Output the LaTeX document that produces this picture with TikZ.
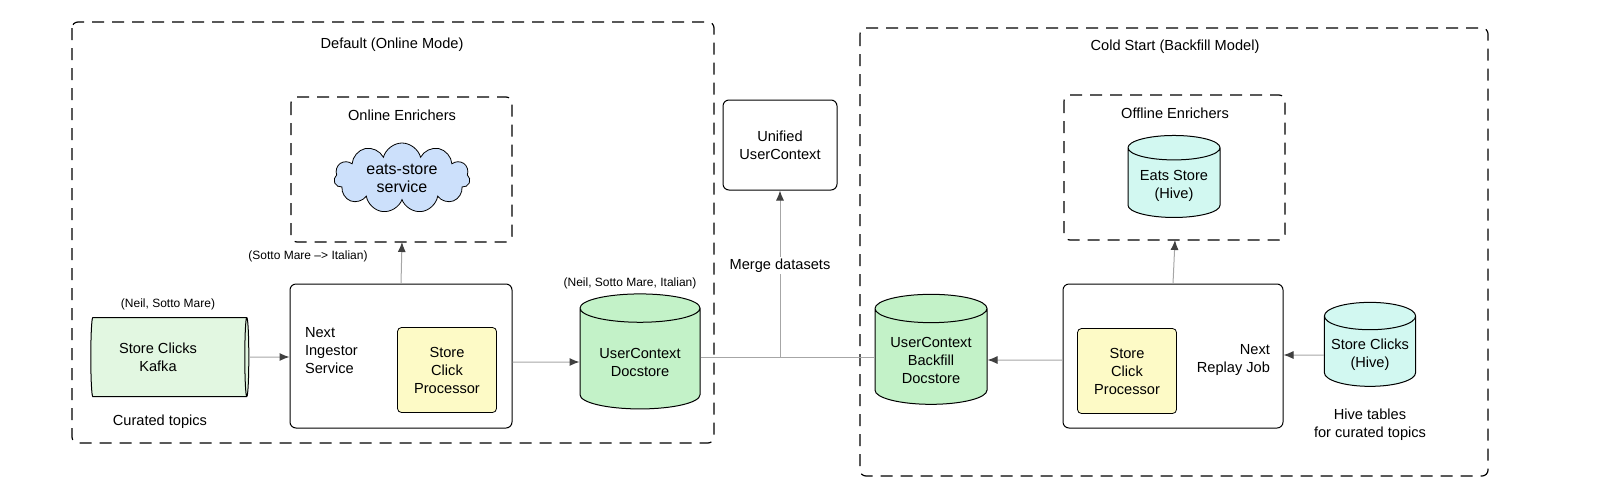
\documentclass[tikz,border=0pt]{standalone}
\usepackage{fontspec}
\setmainfont{Liberation Sans}
\usepackage{tikz}
\usetikzlibrary{positioning, calc, shapes.geometric, shapes.symbols, arrows.meta}
\definecolor{dbgreen}{HTML}{C3F2C8}
\definecolor{kafkagreen}{HTML}{E2F7E1}
\definecolor{cloudblue}{HTML}{CCE0FB}
\definecolor{procyellow}{HTML}{FDFAC6}
\definecolor{hiveteal}{HTML}{D2F8F1}

\begin{document}
\begin{tikzpicture}[
    x=0.5pt, y=-0.5pt,
    >={Latex[length=5pt,width=4pt,color=black!75]},
    every edge/.style={draw=black!35, line width=0.5pt},
    font=\fontsize{7.3}{9}\selectfont,
    region/.style={draw, dash pattern=on 6pt off 4pt, line width=0.6pt, rounded corners=3pt},
    cmpt/.style={draw, rounded corners=3pt, line width=0.5pt},
    proc/.style={draw, rounded corners=2pt, fill=procyellow, minimum width=49.5pt, minimum height=42.5pt, align=center},
    db/.style={draw, cylinder, shape border rotate=90, aspect=0.3, align=center, line width=0.5pt},
    note/.style={align=center, font=\fontsize{6}{7.5}\selectfont},
    tag/.style={midway, fill=white, text=black, inner sep=1pt}]

    \useasboundingbox (0,0) rectangle (1600,483);

    % left side
    \draw [region] (72,22) rectangle (714,443);
    \node at (392,45) {Default (Online Mode)};
    \draw [region] (291,97) rectangle (512,242);
    \node at (402,115) {Online Enrichers};
    \node [draw, cloud, cloud puffs=11, aspect=2, fill=cloudblue, align=center, minimum width=68pt, minimum height=34pt, inner sep=0pt] (eats) at (402,178) {\fontsize{8}{10}\selectfont eats-store\\\fontsize{8}{10}\selectfont service};
    \coordinate (enrichers) at (402,242);
    \node [note] at (308,256) {(Sotto Mare --> Italian)};

    \node [cmpt, minimum width=111pt, minimum height=72pt] (ingestor) at (401,356) {};
    \node [anchor=west, align=left] at (298,351) {Next\\Ingestor\\Service};
    \node [proc] (clickproc) at (447,370) {Store\\Click\\Processor};

    \node [db, shape border rotate=0, fill=kafkagreen, minimum width=39.5pt, minimum height=79pt] (kafka) at (168,357) {};
    \node at (158,357) [align=center] {Store Clicks\\Kafka};
    \node [note] at (168,304) {(Neil, Sotto Mare)};
    \node at (160,422) {Curated topics};

    \node [db, fill=dbgreen, minimum width=60pt, minimum height=57.5pt] (docstore) at (640,362) {UserContext\\Docstore};
    \node [note] at (630,283) {(Neil, Sotto Mare, Italian)};

    % merge
    \node [cmpt, minimum width=57pt, minimum height=45pt, align=center] (unified) at (780,145) {Unified\\UserContext};
    \coordinate (merge) at (780,357);

    % right side
    \draw [region] (860,28) rectangle (1488,476);
    \node at (1175,47) {Cold Start (Backfill Model)};
    \draw [region] (1064,95) rectangle (1285,240);
    \node at (1175,113) {Offline Enrichers};
    \node [db, fill=hiveteal, minimum width=46pt, minimum height=41pt] (eatshive) at (1174,186) {Eats Store\\(Hive)};
    \coordinate (offline) at (1175,240);

    \node [cmpt, minimum width=110pt, minimum height=72pt] (replay) at (1173,356) {};
    \node [anchor=east, align=right] at (1277,360) {Next\\Replay Job};
    \node [proc] (replayproc) at (1127,371) {Store\\Click\\Processor};

    \node [db, fill=dbgreen, minimum width=56pt, minimum height=55pt] (backfill) at (931,360) {UserContext\\Backfill\\Docstore};
    \node [db, fill=hiveteal, minimum width=44pt, minimum height=42pt] (clickhive) at (1370,355) {Store Clicks\\(Hive)};
    \node [align=center] at (1370,425) {Hive tables\\for curated topics};

    \path (kafka) edge [->] (kafka -| ingestor.west);
    \path (ingestor.north) edge [->] (enrichers);
    \path (ingestor.east |- docstore) edge [->] (docstore);
    \path (docstore.east |- merge) edge (backfill.west |- merge);
    \path (merge) edge [->] node[tag, pos=0.55] {Merge datasets} (unified);
    \path (replay.west |- backfill) edge [->] (backfill);
    \path (replay.north) edge [->] (offline);
    \path (clickhive) edge [->] (clickhive -| replay.east);

\end{tikzpicture}
\end{document}
